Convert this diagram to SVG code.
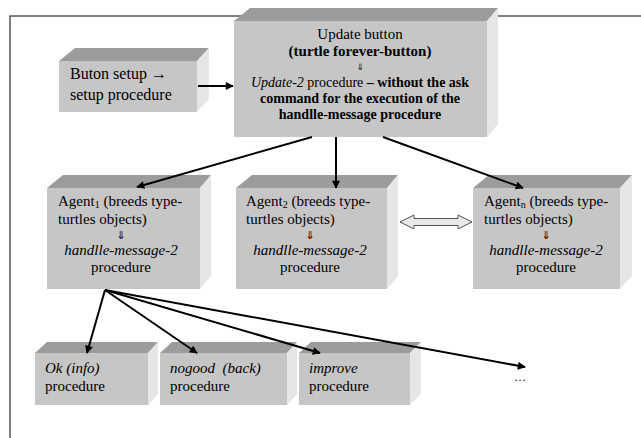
<svg xmlns="http://www.w3.org/2000/svg" width="641" height="438" viewBox="0 0 641 438" font-family="'Liberation Serif', 'DejaVu Serif', serif">
<style>
.top{fill:#9c9c9c}
.front{fill:#c6c6c6}
.side{fill:#e6e6e6}
text{font-family:'Liberation Serif','DejaVu Serif',serif;font-size:15px;fill:#000}
.u{font-size:14px}
.c{text-anchor:middle}
.b{font-weight:bold}
.i{font-style:italic}
.sub{font-size:10px}
.arr{font-family:'DejaVu Sans',sans-serif;font-size:10px;fill:#000}
.ln{stroke:#000;stroke-width:2;fill:none}
</style>
<defs>
<marker id="ah" viewBox="0 0 10 10" refX="9" refY="5" markerWidth="5" markerHeight="4" orient="auto" markerUnits="strokeWidth">
<path d="M0,0 L10,5 L0,10 z" fill="#000"/>
</marker>
</defs>
<rect width="641" height="438" fill="#fff"/>
<path d="M10,438 V16 H641" fill="none" stroke="#555" stroke-width="1.5"/>

<g id="setup">
<polygon class="top" points="59,61 75,48 209,48 197,61"/>
<polygon class="side" points="197,61 209,48 209,99 197,112"/>
<rect class="front" x="59" y="61" width="138" height="51"/>
<text x="70" y="79" style="font-size:16px">Buton setup →</text>
<text x="70" y="100" style="font-size:16px">setup procedure</text>
</g>

<g id="update">
<polygon class="top" points="234,21 250,8 498,8 487,21"/>
<polygon class="side" points="487,21 498,8 498,124 487,137"/>
<rect class="front" x="234" y="21" width="253" height="116"/>
<text class="c u" x="360" y="39" style="font-size:15px">Update button</text>
<text class="c u b" x="360" y="56" style="font-size:15px">(turtle forever-button)</text>
<text class="c arr" x="360" y="70" style="font-size:9px">⇓</text>
<text class="c u" x="360" y="87"><tspan class="i">Update-2</tspan> procedure <tspan class="b">– without the ask</tspan></text>
<text class="c u b" x="360" y="103">command for the execution of the</text>
<text class="c u b" x="360" y="119">handlle-message procedure</text>
</g>

<g id="agent1">
<polygon class="top" points="47,188 63,175 211,175 200,188"/>
<polygon class="side" points="200,188 211,175 211,276 200,289"/>
<rect class="front" x="47" y="188" width="153" height="101"/>
<text x="58" y="206">Agent<tspan class="sub" dy="2">1</tspan><tspan dy="-2"> (breeds type-</tspan></text>
<text x="58" y="224">turtles objects)</text>
<text class="c arr" x="121" y="239" style="font-size:11px">⇓</text>
<text class="c i" x="121" y="255">handlle-message-2</text>
<text class="c" x="121" y="272">procedure</text>
</g>

<g id="agent2">
<polygon class="top" points="236,188 252,175 398,175 387,188"/>
<polygon class="side" points="387,188 398,175 398,276 387,289"/>
<rect class="front" x="236" y="188" width="151" height="101"/>
<text x="246" y="206">Agent<tspan class="sub" dy="2">2</tspan><tspan dy="-2"> (breeds type-</tspan></text>
<text x="246" y="224">turtles objects)</text>
<text class="c arr" x="310" y="239" style="font-size:11px">⇓</text>
<text class="c i" x="310" y="255">handlle-message-2</text>
<text class="c" x="310" y="272">procedure</text>
</g>

<g id="agentn">
<polygon class="top" points="473,188 489,175 632,175 620,188"/>
<polygon class="side" points="620,188 632,175 632,276 620,289"/>
<rect class="front" x="473" y="188" width="147" height="101"/>
<text x="484" y="206">Agent<tspan class="sub" dy="2">n</tspan><tspan dy="-2"> (breeds type-</tspan></text>
<text x="484" y="224">turtles objects)</text>
<text class="c arr" x="546" y="239" style="font-size:11px">⇓</text>
<text class="c i" x="546" y="255">handlle-message-2</text>
<text class="c" x="546" y="272">procedure</text>
</g>

<g id="ok">
<polygon class="top" points="35,353 47,342 158,342 148,353"/>
<polygon class="side" points="148,353 158,342 158,394 148,405"/>
<rect class="front" x="35" y="353" width="113" height="52"/>
<text class="i" x="45" y="373">Ok (info)</text>
<text x="45" y="391">procedure</text>
</g>

<g id="nogood">
<polygon class="top" points="160,353 172,342 297,342 287,353"/>
<polygon class="side" points="287,353 297,342 297,394 287,405"/>
<rect class="front" x="160" y="353" width="127" height="52"/>
<text class="i" x="170" y="373" xml:space="preserve">nogood  (back)</text>
<text x="170" y="391">procedure</text>
</g>

<g id="improve">
<polygon class="top" points="299,353 311,342 421,342 410,353"/>
<polygon class="side" points="410,353 421,342 421,394 410,405"/>
<rect class="front" x="299" y="353" width="111" height="52"/>
<text class="i" x="309" y="373">improve</text>
<text x="309" y="391">procedure</text>
</g>

<text id="more" x="514" y="381" style="font-size:12px">…</text>

<g id="connectors">
<line class="ln" x1="198" y1="86" x2="233" y2="86" stroke-width="3" marker-end="url(#ah)"/>
<line class="ln" x1="312" y1="137" x2="137" y2="187" marker-end="url(#ah)"/>
<line class="ln" x1="336" y1="137" x2="336" y2="188" marker-end="url(#ah)"/>
<line class="ln" x1="383" y1="137" x2="523" y2="188" marker-end="url(#ah)"/>
<line class="ln" x1="105" y1="290" x2="87" y2="353" marker-end="url(#ah)"/>
<line class="ln" x1="105" y1="290" x2="197" y2="353" marker-end="url(#ah)"/>
<line class="ln" x1="105" y1="290" x2="320" y2="353" marker-end="url(#ah)"/>
<line class="ln" x1="105" y1="290" x2="525" y2="367" marker-end="url(#ah)"/>
<polygon points="400,222 414,215 414,218.5 458,218.5 458,215 472,222 458,229 458,225.5 414,225.5 414,229" fill="#e8e8e8" stroke="#555" stroke-width="1"/>
</g>
</svg>
